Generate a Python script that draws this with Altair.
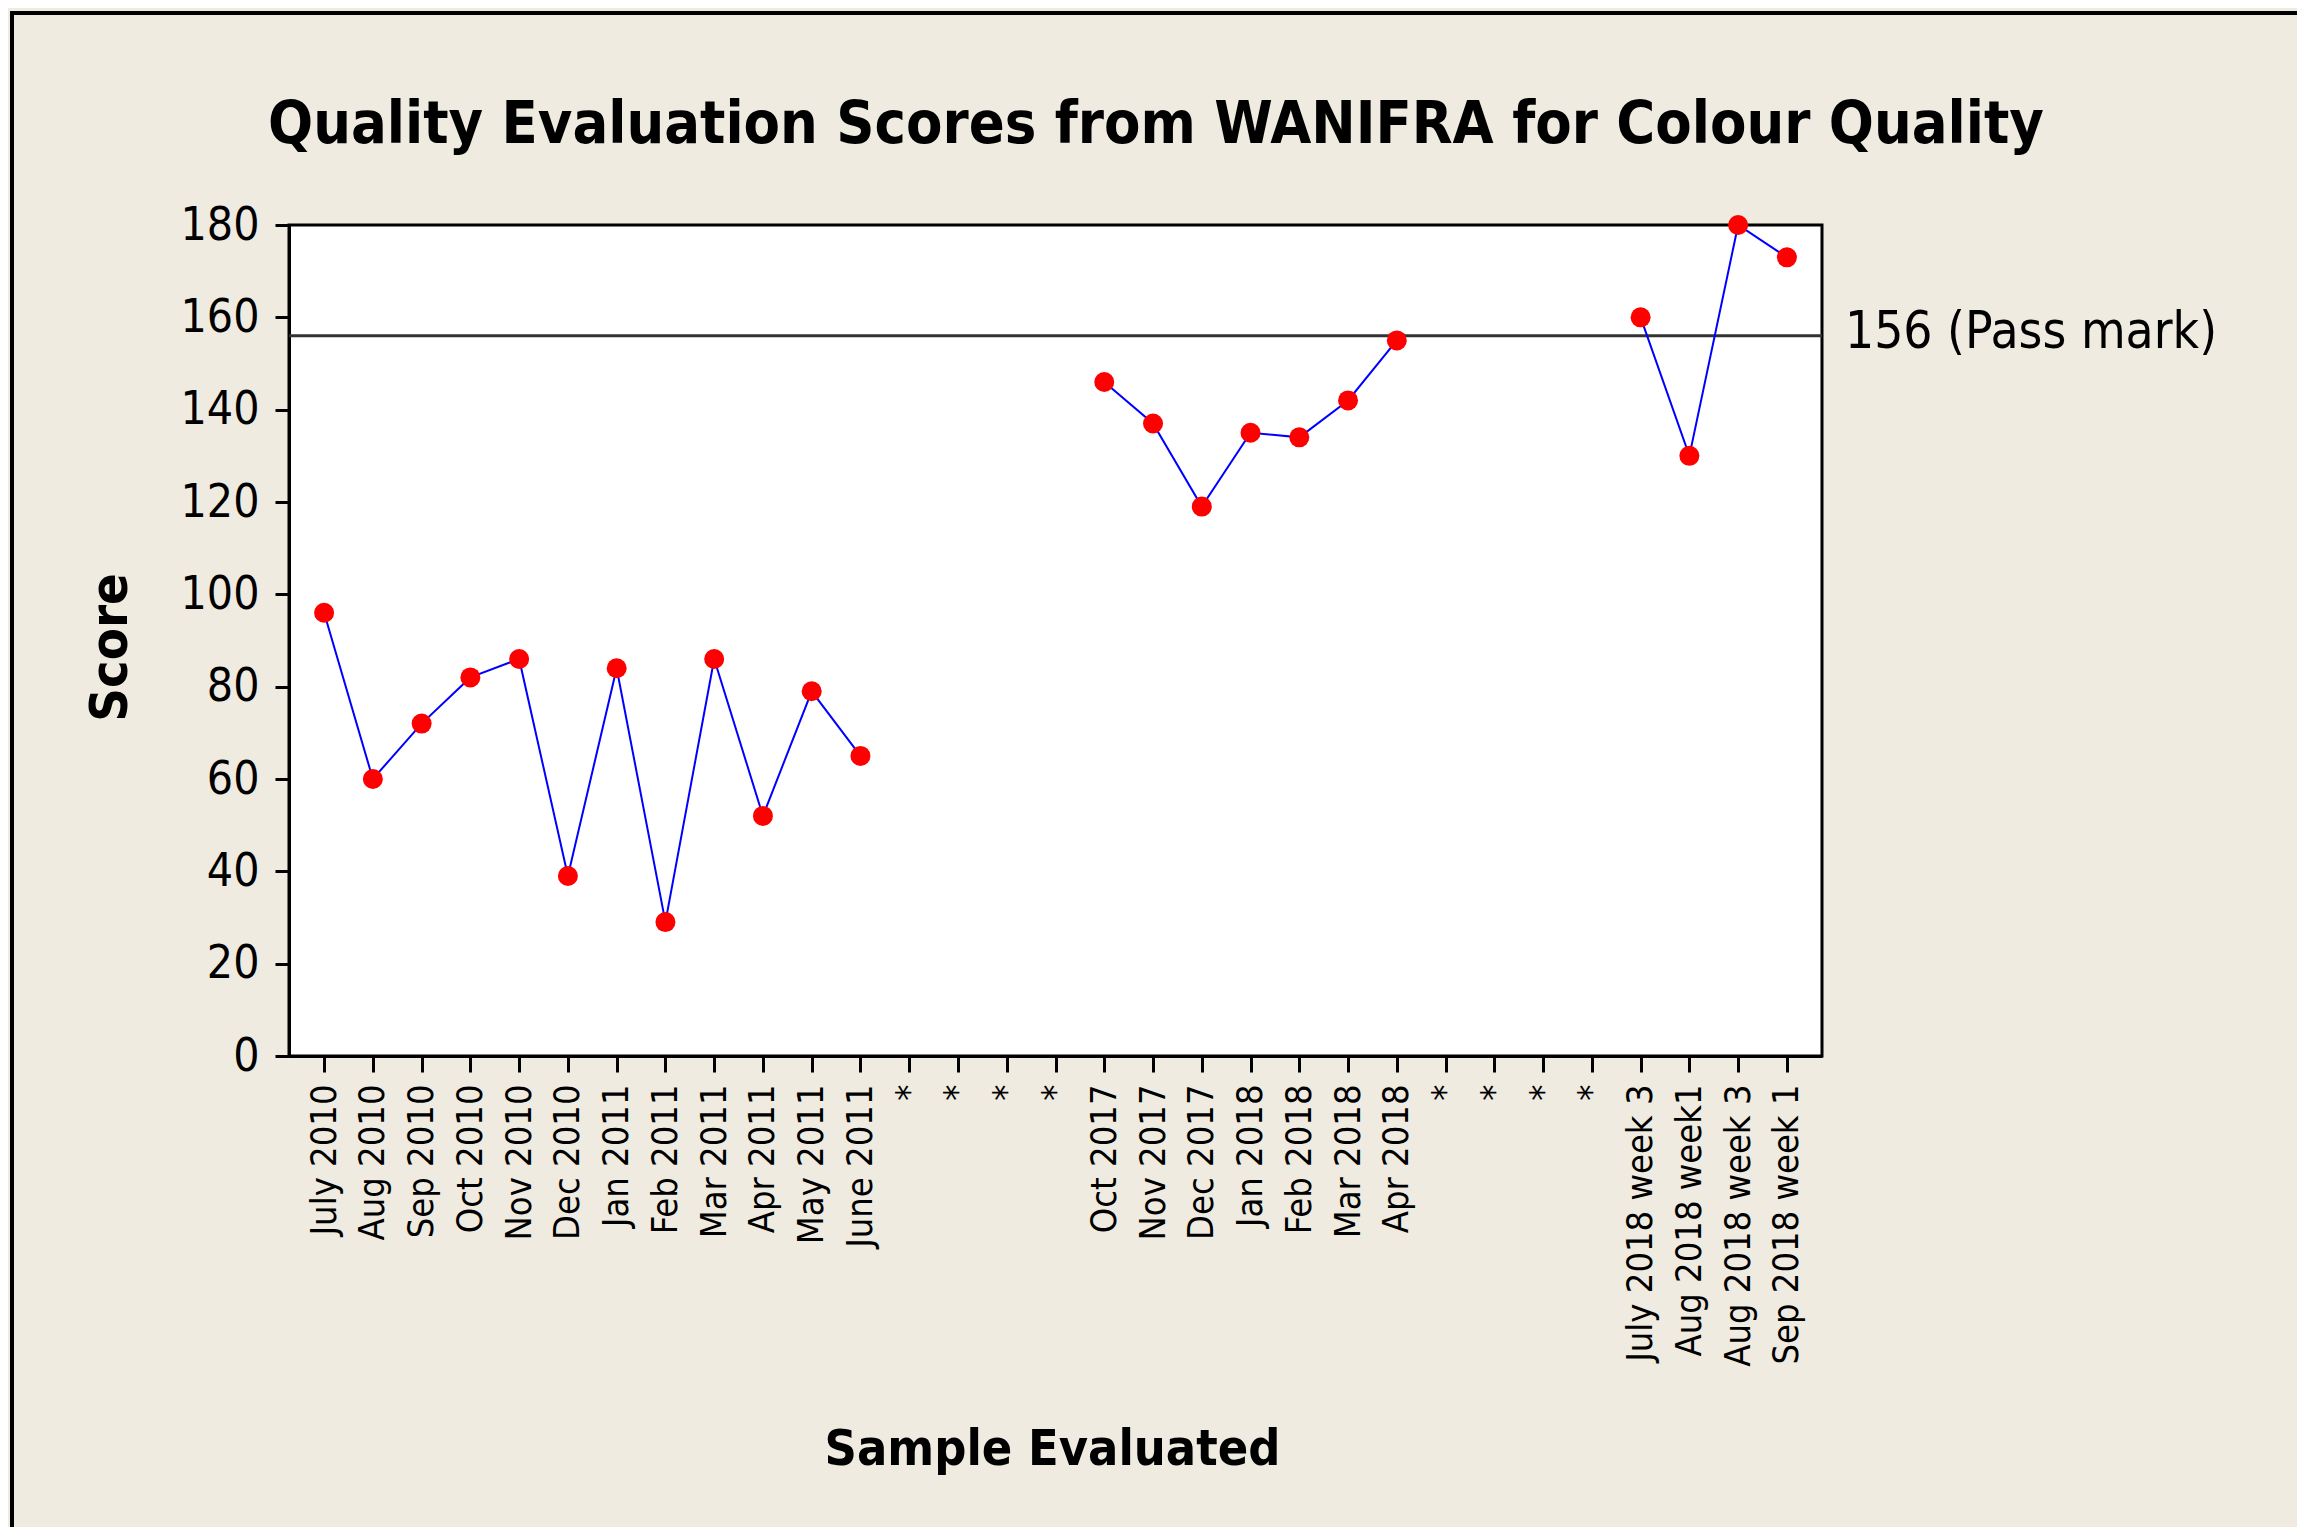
import altair as alt
import pandas as pd

# ---- data ----
samples = [
    "July 2010", "Aug 2010", "Sep 2010", "Oct 2010", "Nov 2010", "Dec 2010",
    "Jan 2011", "Feb 2011", "Mar 2011", "Apr 2011", "May 2011", "June 2011",
    "*", "*", "*", "*",
    "Oct 2017", "Nov 2017", "Dec 2017", "Jan 2018", "Feb 2018", "Mar 2018", "Apr 2018",
    "*", "*", "*", "*",
    "July 2018 week 3", "Aug 2018 week1", "Aug 2018 week 3", "Sep 2018 week 1",
]
scores = [
    96, 60, 72, 82, 86, 39, 84, 29, 86, 52, 79, 65,
    None, None, None, None,
    146, 137, 119, 135, 134, 142, 155,
    None, None, None, None,
    160, 130, 180, 173,
]
pass_mark = [156]
pass_label = ["156 (Pass mark)"]
chart_title = "Quality Evaluation Scores from WANIFRA for Colour Quality"

# unique keys for the missing ("*") samples
keys = []
n_star = 0
for s in samples:
    if s == "*":
        n_star += 1
        keys.append("*" + str(n_star))
    else:
        keys.append(s)

df = pd.DataFrame({"sample": keys, "score": scores})
df_pass = pd.DataFrame({"score": pass_mark, "label": pass_label})
df_one = pd.DataFrame({"t": [chart_title]})

W, H = 1533, 831
PL, PT, PR, PB = 281, 217, 475, 471

FONT = "DejaVu Sans Condensed, DejaVu Sans"

x_enc = alt.X(
    "sample:N",
    sort=keys,
    scale=alt.Scale(type="point", domain=keys, padding=0.72),
    axis=alt.Axis(
        title="Sample Evaluated",
        labelAngle=270,
        labelFont=FONT,
        labelFontSize=36,
        labelPadding=12,
        labelLimit=0,
        tickSize=16,
        labelExpr="substring(datum.value, 0, 1) === '*' ? '*' : datum.value",
        titleFont=FONT,
        titleFontSize=50,
        titleFontWeight="bold",
        titleX=763,
        titleY=393,
        titleBaseline="middle",
        titleAlign="center",
        labelOverlap=False,
    ),
)
y_enc = alt.Y(
    "score:Q",
    scale=alt.Scale(domain=[0, 180], nice=False, zero=True),
    axis=alt.Axis(
        title="Score",
        values=list(range(0, 181, 20)),
        labelFont=FONT,
        labelFontSize=46,
        labelPadding=16,
        tickSize=14,
        titleFont=FONT,
        titleFontSize=52,
        titleFontWeight="bold",
        titleAngle=270,
        titleX=-179,
        titleY=422,
        titleBaseline="middle",
        titleAlign="center",
    ),
)

rule = alt.Chart(df_pass).mark_rule(color="#333333", strokeWidth=3).encode(y="score:Q")

line = alt.Chart(df).mark_line(color="#0000FF", strokeWidth=2).encode(x=x_enc, y=y_enc)

points = alt.Chart(df).mark_circle(color="#FF0000", size=400, opacity=1).encode(
    x=alt.X("sample:N", sort=keys), y="score:Q"
)

pass_text = alt.Chart(df_pass).mark_text(
    align="left", baseline="middle", font=FONT, fontSize=51, color="black", dy=-3
).encode(y="score:Q", x=alt.value(W + 23), text="label:N")

title_text = alt.Chart(df_one).mark_text(
    align="center", baseline="alphabetic", font=FONT, fontSize=59,
    fontWeight="bold", color="black"
).encode(x=alt.value(1156 - 289), y=alt.value(143 - 225), text="t:N")

border_left = alt.Chart(df_one).mark_rule(color="black", strokeWidth=4).encode(
    x=alt.value(-PL + 4), y=alt.value(-PT + 3), y2=alt.value(H + PB)
)
border_top = alt.Chart(df_one).mark_rule(color="black", strokeWidth=4).encode(
    y=alt.value(-PT + 5), x=alt.value(-PL + 2), x2=alt.value(W + PR)
)

chart = (
    alt.layer(rule, line, points, pass_text, title_text, border_left, border_top)
    .properties(
        width=W,
        height=H,
        autosize=alt.AutoSizeParams(type="none"),
        padding={"left": PL, "top": PT, "right": PR, "bottom": PB},
        background="#EFEBE0",
    )
    .configure_view(fill="white", stroke="black", strokeWidth=3)
    .configure_axis(
        grid=False,
        domainColor="black",
        domainWidth=3,
        tickColor="black",
        tickWidth=3,
        labelColor="black",
        titleColor="black",
    )
)

chart.save("out.html", embed_options={"renderer": "svg", "actions": False})
